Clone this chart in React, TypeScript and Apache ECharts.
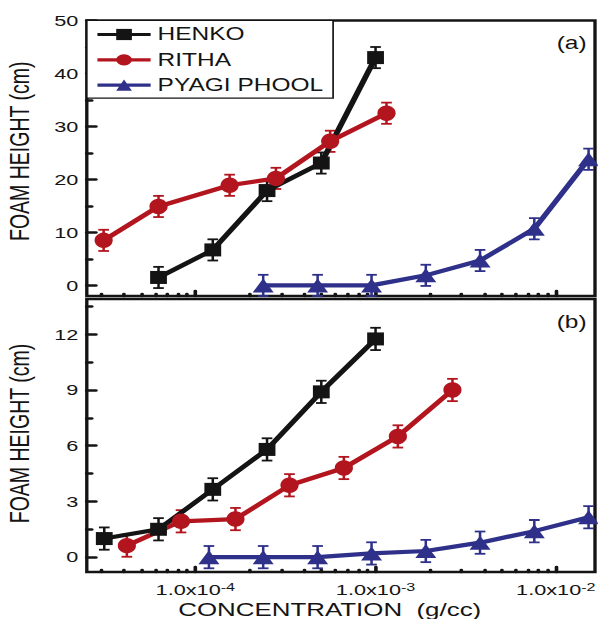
import React, { useEffect, useRef } from 'react';
import * as echarts from 'echarts';

// ---------- data ----------
const SERIES_NAMES = ['HENKO', 'RITHA', 'PYAGI PHOOL'];

// Panel (a)
const henkoA_x = [6.25e-5, 1.25e-4, 2.5e-4, 5e-4, 1e-3];
const henkoA_y = [1.5, 6.7, 17.9, 23.1, 43.0];
const rithaA_x = [3.1e-5, 6.25e-5, 1.55e-4, 2.8e-4, 5.6e-4, 1.15e-3];
const rithaA_y = [8.5, 14.9, 18.9, 20.2, 27.2, 32.5];
const pyagiA_x = [2.38e-4, 4.77e-4, 9.5e-4, 1.9e-3, 3.8e-3, 7.6e-3, 1.52e-2];
const pyagiA_y = [0, 0, 0, 1.9, 4.7, 10.7, 23.8];
const errA = 2.0;

// Panel (b)
const henkoB_x = [3.125e-5, 6.25e-5, 1.25e-4, 2.5e-4, 5e-4, 1e-3];
const henkoB_y = [1.0, 1.5, 3.65, 5.8, 8.9, 11.75];
const rithaB_x = [4.17e-5, 8.33e-5, 1.67e-4, 3.33e-4, 6.67e-4, 1.33e-3, 2.67e-3];
const rithaB_y = [0.62, 1.93, 2.05, 3.87, 4.8, 6.5, 9.0];
const pyagiB_x = [1.19e-4, 2.38e-4, 4.77e-4, 9.5e-4, 1.9e-3, 3.8e-3, 7.6e-3, 1.52e-2];
const pyagiB_y = [0, 0, 0, 0.2, 0.33, 0.78, 1.4, 2.15];
const errB = 0.6;

// Axes
const X_MIN = 2.5e-5;
const X_MAX = 0.0165;
const xMajorTicks = [1e-4, 1e-3, 1e-2];
const xMinorTicks = [
  3e-5, 4e-5, 5e-5, 6e-5, 7e-5, 8e-5, 9e-5,
  2e-4, 3e-4, 4e-4, 5e-4, 6e-4, 7e-4, 8e-4, 9e-4,
  2e-3, 3e-3, 4e-3, 5e-3, 6e-3, 7e-3, 8e-3, 9e-3,
];
const Y_A_MIN = -2;
const Y_A_MAX = 50;
const yTicksA = [0, 10, 20, 30, 40, 50];
const yMinorA = [5, 15, 25, 35, 45];
const Y_B_MIN = -0.8;
const Y_B_MAX = 13.9;
const yTicksB = [0, 3, 6, 9, 12];
const yMinorB = [1.5, 4.5, 7.5, 10.5, 13.5];

// ---------- style / layout ----------
const S = 1.4; // horizontal stretch of the original figure
const W = Math.round(598 / S);
const H = 619;
const FONT = 'Liberation Sans, Arial, Helvetica, sans-serif';
const INK = '#141414';
const COLORS = ['#141414', '#b3151f', '#2e3089'];
const SYMBOLS = ['rect', 'circle', 'triangle'];
const SYMBOL_SIZES: any[] = [[12, 13], [13, 15.5], [15, 14]];

const tickStyle = { color: INK, width: 2.6, cap: 'round' };

const xBase = (gridIndex: number) => ({
  type: 'log',
  logBase: 10,
  gridIndex,
  min: X_MIN,
  max: X_MAX,
  position: 'bottom',
  axisLine: { show: false, onZero: false },
  splitLine: { show: false },
  minorTick: { show: false },
});

const yBase = (gridIndex: number, min: number, max: number) => ({
  type: 'value',
  gridIndex,
  min,
  max,
  position: 'left',
  axisLine: { show: false, onZero: false },
  splitLine: { show: false },
  minorTick: { show: false },
});

const xLabelFormatter = (v: number) => `1.0x10{s|${Math.round(Math.log10(v))}}`;

const lineSeries = (
  idx: number, xs: number[], ys: number[], xAxisIndex: number, yAxisIndex: number
) => ({
  type: 'line',
  name: SERIES_NAMES[idx],
  xAxisIndex,
  yAxisIndex,
  data: xs.map((x, i) => [x, ys[i]]),
  symbol: SYMBOLS[idx],
  symbolSize: SYMBOL_SIZES[idx],
  color: COLORS[idx],
  itemStyle: { color: COLORS[idx] },
  lineStyle: { color: COLORS[idx], width: 4.2 },
  z: 3,
});

const errSeries = (
  idx: number, xs: number[], ys: number[], err: number, xAxisIndex: number, yAxisIndex: number
) => ({
  type: 'custom',
  name: SERIES_NAMES[idx] + ' error',
  xAxisIndex,
  yAxisIndex,
  z: 2,
  data: xs.map((x, i) => [x, ys[i] - err, ys[i] + err]),
  encode: { x: 0, y: [1, 2] },
  renderItem: (_params: any, api: any) => {
    const x = api.value(0);
    const lo = api.coord([x, api.value(1)]);
    const hi = api.coord([x, api.value(2)]);
    const hw = 3.8;
    const style = { stroke: COLORS[idx], lineWidth: 1.8, fill: 'none' };
    return {
      type: 'group',
      children: [
        { type: 'line', shape: { x1: lo[0], y1: lo[1], x2: hi[0], y2: hi[1] }, style },
        { type: 'line', shape: { x1: lo[0] - hw, y1: lo[1], x2: lo[0] + hw, y2: lo[1] }, style },
        { type: 'line', shape: { x1: hi[0] - hw, y1: hi[1], x2: hi[0] + hw, y2: hi[1] }, style },
      ],
    };
  },
});

const yLabel = (values: number[]) => ({
  show: true,
  customValues: values,
  fontSize: 15.5,
  margin: 6,
  color: INK,
  fontFamily: FONT,
});

const yName = (shift: number) => ({
  name: 'FOAM HEIGHT (cm)',
  nameLocation: 'middle',
  nameGap: 38,
  nameTextStyle: { fontSize: 19.5, color: INK, fontFamily: FONT, padding: [0, 0, 0, shift] },
});

const gridBase = {
  left: 62,
  right: 2,
  show: true,
  borderColor: INK,
  borderWidth: 2.4,
  containLabel: false,
  outerBoundsMode: 'none',
};

const option: any = {
  animation: false,
  backgroundColor: '#fff',
  textStyle: { fontFamily: FONT, color: INK },
  grid: [
    { ...gridBase, top: 20.5, height: 275.5 },
    { ...gridBase, top: 299, height: 273 },
  ],
  legend: {
    data: SERIES_NAMES,
    orient: 'vertical',
    left: 62,
    top: 20.5,
    itemWidth: 38,
    itemHeight: 14,
    itemGap: 7.3,
    padding: [5, 7, 4, 6],
    borderColor: INK,
    borderWidth: 1.2,
    backgroundColor: '#fff',
    selectedMode: false,
    lineStyle: { width: 3.2 },
    textStyle: { fontSize: 17.5, color: INK, fontFamily: FONT, lineHeight: 14 },
  },
  xAxis: [
    {
      ...xBase(0),
      axisTick: { show: true, inside: true, length: 5, customValues: xMajorTicks, lineStyle: tickStyle },
      axisLabel: { show: false },
    },
    {
      ...xBase(0),
      axisTick: { show: true, inside: true, length: 2, customValues: xMinorTicks, lineStyle: tickStyle },
      axisLabel: { show: false },
    },
    {
      ...xBase(1),
      axisTick: { show: true, inside: true, length: 5, customValues: xMajorTicks, lineStyle: tickStyle },
      axisLabel: {
        show: true,
        customValues: xMajorTicks,
        margin: 9,
        fontSize: 15.5,
        lineHeight: 18,
        color: INK,
        fontFamily: FONT,
        formatter: xLabelFormatter,
        rich: {
          s: { fontSize: 11.5, fontFamily: FONT, color: INK, lineHeight: 11, verticalAlign: 'top' },
        },
      },
      name: 'CONCENTRATION  (g/cc)',
      nameLocation: 'middle',
      nameGap: 24,
      nameTextStyle: {
        fontSize: 18.5, lineHeight: 18.5, color: INK, fontFamily: FONT,
        padding: [0, 16, 0, 0], verticalAlign: 'top',
      },
    },
    {
      ...xBase(1),
      axisTick: { show: true, inside: true, length: 2, customValues: xMinorTicks, lineStyle: tickStyle },
      axisLabel: { show: false },
    },
  ],
  yAxis: [
    {
      ...yBase(0, Y_A_MIN, Y_A_MAX),
      axisTick: { show: true, inside: true, length: 6.5, customValues: yTicksA, lineStyle: tickStyle },
      axisLabel: yLabel(yTicksA),
      ...yName(14),
    },
    {
      ...yBase(0, Y_A_MIN, Y_A_MAX),
      axisTick: { show: true, inside: true, length: 3.5, customValues: yMinorA, lineStyle: tickStyle },
      axisLabel: { show: false },
    },
    {
      ...yBase(1, Y_B_MIN, Y_B_MAX),
      axisTick: { show: true, inside: true, length: 6.5, customValues: yTicksB, lineStyle: tickStyle },
      axisLabel: yLabel(yTicksB),
      ...yName(4),
    },
    {
      ...yBase(1, Y_B_MIN, Y_B_MAX),
      axisTick: { show: true, inside: true, length: 3.5, customValues: yMinorB, lineStyle: tickStyle },
      axisLabel: { show: false },
    },
  ],
  graphic: [
    {
      type: 'text', right: 8, top: 34, z: 10,
      style: { text: '(a)', fontSize: 17.5, fontFamily: FONT, fill: INK },
    },
    {
      type: 'text', right: 8, top: 313, z: 10,
      style: { text: '(b)', fontSize: 17.5, fontFamily: FONT, fill: INK },
    },
  ],
  series: [
    lineSeries(0, henkoA_x, henkoA_y, 0, 0),
    lineSeries(1, rithaA_x, rithaA_y, 0, 0),
    lineSeries(2, pyagiA_x, pyagiA_y, 0, 0),
    lineSeries(0, henkoB_x, henkoB_y, 2, 2),
    lineSeries(1, rithaB_x, rithaB_y, 2, 2),
    lineSeries(2, pyagiB_x, pyagiB_y, 2, 2),
    errSeries(0, henkoA_x, henkoA_y, errA, 0, 0),
    errSeries(1, rithaA_x, rithaA_y, errA, 0, 0),
    errSeries(2, pyagiA_x, pyagiA_y, errA, 0, 0),
    errSeries(0, henkoB_x, henkoB_y, errB, 2, 2),
    errSeries(1, rithaB_x, rithaB_y, errB, 2, 2),
    errSeries(2, pyagiB_x, pyagiB_y, errB, 2, 2),
  ],
};

export default function App() {
  const ref = useRef<HTMLDivElement>(null);
  useEffect(() => {
    if (!ref.current) return;
    const chart = echarts.init(ref.current, null, { renderer: 'svg', width: W, height: H });
    chart.setOption(option);
    return () => chart.dispose();
  }, []);
  return (
    <div
      style={{
        position: 'fixed', left: 0, top: 0, width: 598, height: 619,
        overflow: 'hidden', background: '#fff',
      }}
    >
      <div
        ref={ref}
        style={{ width: W, height: H, transform: `scaleX(${S})`, transformOrigin: '0 0' }}
      />
    </div>
  );
}
